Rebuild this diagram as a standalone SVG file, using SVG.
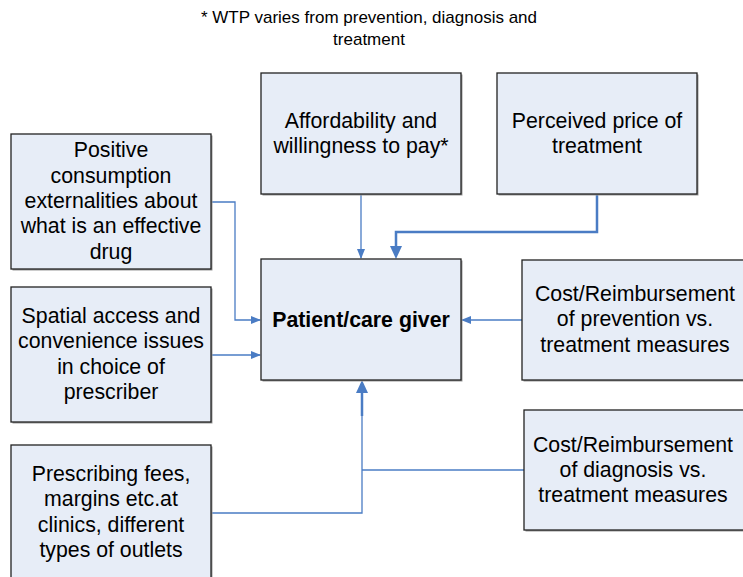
<svg xmlns="http://www.w3.org/2000/svg" width="743" height="577" viewBox="0 0 743 577">
<defs>
<style>
.box{fill:#E7EDF7;stroke:#222;stroke-width:1.3}
.sh{fill:#9a9a9a}
.t{font-family:"Liberation Sans",Arial,sans-serif;font-size:21.3px;fill:#000;text-anchor:middle}
.b{font-weight:bold}
.ttl{font-family:"Liberation Sans",Arial,sans-serif;font-size:17px;fill:#000;text-anchor:middle}
.c{fill:none;stroke:#4A7CC4;stroke-width:1.3}
.c2{fill:none;stroke:#4A7CC4;stroke-width:2.5}
</style>
<marker id="a" markerWidth="10" markerHeight="8" refX="9" refY="4" orient="auto" markerUnits="userSpaceOnUse"><path d="M0,0 L10,4 L0,8 Z" fill="#4A7CC4"/></marker>
</defs>
<rect width="743" height="577" fill="#fff"/>
<g id="title">
<text class="ttl" x="369" y="23">* WTP varies from prevention, diagnosis and</text>
<text class="ttl" x="369" y="45">treatment</text>
</g>
<g id="connectors">
<path class="c" d="M361,194 V258" marker-end="url(#a)"/>
<path class="c2" d="M597,194 V232 H396 V247"/>
<path d="M390,246 L402,246 L396,259 Z" fill="#4A7CC4"/>
<path class="c" d="M211,202 H235 V320 H260" marker-end="url(#a)"/>
<path class="c" d="M211,355 H260" marker-end="url(#a)"/>
<path class="c" d="M522,320 H462" marker-end="url(#a)"/>
<path class="c" d="M211,513 H362 V415"/>
<path class="c2" d="M362,416 V392"/>
<path d="M356,393 L368,393 L362,380 Z" fill="#4A7CC4"/>
<path class="c" d="M524,470 H362"/>
</g>
<g id="n-afford">
<rect class="sh" x="262.5" y="74.5" width="200" height="121"/>
<rect class="box" x="261" y="73" width="200" height="121"/>
<text class="t" x="361" y="128">Affordability and</text>
<text class="t" x="361" y="153">willingness to pay*</text>
</g>
<g id="n-price">
<rect class="sh" x="498.5" y="74.5" width="200" height="121"/>
<rect class="box" x="497" y="73" width="200" height="121"/>
<text class="t" x="597" y="128">Perceived price of</text>
<text class="t" x="597" y="153">treatment</text>
</g>
<g id="n-positive">
<rect class="sh" x="12.5" y="135.5" width="200" height="135"/>
<rect class="box" x="11" y="134" width="200" height="135"/>
<text class="t" x="111" y="157">Positive</text>
<text class="t" x="111" y="183">consumption</text>
<text class="t" x="111" y="208">externalities about</text>
<text class="t" x="111" y="233">what is an effective</text>
<text class="t" x="111" y="259">drug</text>
</g>
<g id="n-spatial">
<rect class="sh" x="12.5" y="288.5" width="200" height="135"/>
<rect class="box" x="11" y="287" width="200" height="135"/>
<text class="t" x="111" y="323">Spatial access and</text>
<text class="t" x="111" y="348">convenience issues</text>
<text class="t" x="111" y="374">in choice of</text>
<text class="t" x="111" y="399">prescriber</text>
</g>
<g id="n-prescribing">
<rect class="sh" x="12.5" y="446.5" width="200" height="140"/>
<rect class="box" x="11" y="445" width="200" height="140"/>
<text class="t" x="111" y="481">Prescribing fees,</text>
<text class="t" x="111" y="506">margins etc.at</text>
<text class="t" x="111" y="532">clinics, different</text>
<text class="t" x="111" y="557">types of outlets</text>
</g>
<g id="n-patient">
<rect class="sh" x="262.5" y="260.5" width="200" height="121"/>
<rect class="box" x="261" y="259" width="200" height="121"/>
<text class="t b" x="361" y="327">Patient/care giver</text>
</g>
<g id="n-costprev">
<rect class="sh" x="523.5" y="261.5" width="230" height="120"/>
<rect class="box" x="522" y="260" width="230" height="120"/>
<text class="t" x="635" y="301">Cost/Reimbursement</text>
<text class="t" x="635" y="326">of prevention vs.</text>
<text class="t" x="635" y="352">treatment measures</text>
</g>
<g id="n-costdiag">
<rect class="sh" x="525.5" y="411.5" width="230" height="120"/>
<rect class="box" x="524" y="410" width="230" height="120"/>
<text class="t" x="633" y="452">Cost/Reimbursement</text>
<text class="t" x="633" y="477">of diagnosis vs.</text>
<text class="t" x="633" y="502">treatment measures</text>
</g>
</svg>
